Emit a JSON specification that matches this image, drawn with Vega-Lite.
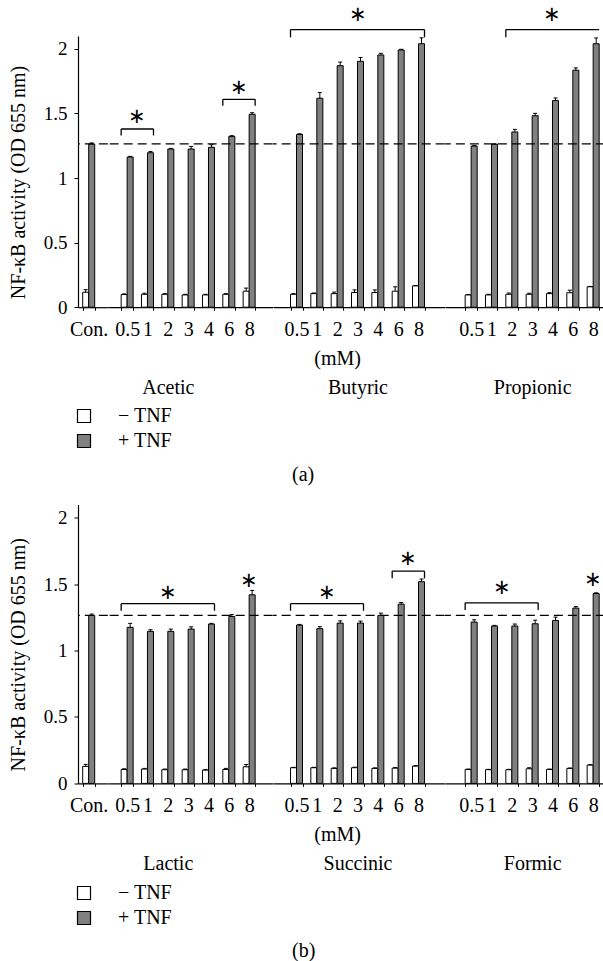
{
"$schema":"https://vega.github.io/schema/vega-lite/v6.json",
"background":"white",
"autosize":"pad",
"padding":{"left":8,"top":4,"right":0,"bottom":0},
"config":{"view":{"stroke":null},"font":"Liberation Serif",
 "axis":{"labelFont":"Liberation Serif","titleFont":"Liberation Serif","grid":false,"domainColor":"#000","tickColor":"#000","labelColor":"#000","titleColor":"#000","titleFontWeight":"normal"},
 "text":{"font":"Liberation Serif","color":"#000"},
 "title":{"font":"Liberation Serif","fontWeight":"normal","fontSize":20,"color":"#000"},
 "legend":{"labelFont":"Liberation Serif","labelColor":"#000"}},
"datasets":{
 "abars":[
  {"group":"Con","conc":"Con.","tnf":"− TNF","value":0.116,"upper":0.136},{"group":"Con","conc":"Con.","tnf":"+ TNF","value":1.264,"upper":1.272},
  {"group":"Acetic","conc":"0.5","tnf":"− TNF","value":0.098,"upper":0.103},{"group":"Acetic","conc":"0.5","tnf":"+ TNF","value":1.163,"upper":1.168},
  {"group":"Acetic","conc":"1","tnf":"− TNF","value":0.1,"upper":0.108},{"group":"Acetic","conc":"1","tnf":"+ TNF","value":1.196,"upper":1.206},
  {"group":"Acetic","conc":"2","tnf":"− TNF","value":0.1,"upper":0.105},{"group":"Acetic","conc":"2","tnf":"+ TNF","value":1.225,"upper":1.23},
  {"group":"Acetic","conc":"3","tnf":"− TNF","value":0.095,"upper":0.1},{"group":"Acetic","conc":"3","tnf":"+ TNF","value":1.225,"upper":1.245},
  {"group":"Acetic","conc":"4","tnf":"− TNF","value":0.095,"upper":0.1},{"group":"Acetic","conc":"4","tnf":"+ TNF","value":1.238,"upper":1.258},
  {"group":"Acetic","conc":"6","tnf":"− TNF","value":0.1,"upper":0.105},{"group":"Acetic","conc":"6","tnf":"+ TNF","value":1.323,"upper":1.328},
  {"group":"Acetic","conc":"8","tnf":"− TNF","value":0.124,"upper":0.148},{"group":"Acetic","conc":"8","tnf":"+ TNF","value":1.494,"upper":1.506},
  {"group":"Butyric","conc":"0.5","tnf":"− TNF","value":0.1,"upper":0.105},{"group":"Butyric","conc":"0.5","tnf":"+ TNF","value":1.338,"upper":1.343},
  {"group":"Butyric","conc":"1","tnf":"− TNF","value":0.105,"upper":0.11},{"group":"Butyric","conc":"1","tnf":"+ TNF","value":1.618,"upper":1.662},
  {"group":"Butyric","conc":"2","tnf":"− TNF","value":0.105,"upper":0.117},{"group":"Butyric","conc":"2","tnf":"+ TNF","value":1.87,"upper":1.898},
  {"group":"Butyric","conc":"3","tnf":"− TNF","value":0.114,"upper":0.134},{"group":"Butyric","conc":"3","tnf":"+ TNF","value":1.904,"upper":1.934},
  {"group":"Butyric","conc":"4","tnf":"− TNF","value":0.114,"upper":0.134},{"group":"Butyric","conc":"4","tnf":"+ TNF","value":1.953,"upper":1.966},
  {"group":"Butyric","conc":"6","tnf":"− TNF","value":0.124,"upper":0.158},{"group":"Butyric","conc":"6","tnf":"+ TNF","value":1.992,"upper":1.997},
  {"group":"Butyric","conc":"8","tnf":"− TNF","value":0.165,"upper":0.168},{"group":"Butyric","conc":"8","tnf":"+ TNF","value":2.04,"upper":2.086},
  {"group":"Propionic","conc":"0.5","tnf":"− TNF","value":0.095,"upper":0.098},{"group":"Propionic","conc":"0.5","tnf":"+ TNF","value":1.248,"upper":1.253},
  {"group":"Propionic","conc":"1","tnf":"− TNF","value":0.095,"upper":0.1},{"group":"Propionic","conc":"1","tnf":"+ TNF","value":1.261,"upper":1.266},
  {"group":"Propionic","conc":"2","tnf":"− TNF","value":0.1,"upper":0.11},{"group":"Propionic","conc":"2","tnf":"+ TNF","value":1.357,"upper":1.377},
  {"group":"Propionic","conc":"3","tnf":"− TNF","value":0.1,"upper":0.108},{"group":"Propionic","conc":"3","tnf":"+ TNF","value":1.483,"upper":1.501},
  {"group":"Propionic","conc":"4","tnf":"− TNF","value":0.105,"upper":0.113},{"group":"Propionic","conc":"4","tnf":"+ TNF","value":1.6,"upper":1.62},
  {"group":"Propionic","conc":"6","tnf":"− TNF","value":0.112,"upper":0.132},{"group":"Propionic","conc":"6","tnf":"+ TNF","value":1.835,"upper":1.853},
  {"group":"Propionic","conc":"8","tnf":"− TNF","value":0.158,"upper":0.161},{"group":"Propionic","conc":"8","tnf":"+ TNF","value":2.04,"upper":2.085}
 ],
 "bbars":[
  {"group":"Con","conc":"Con.","tnf":"− TNF","value":0.128,"upper":0.143},{"group":"Con","conc":"Con.","tnf":"+ TNF","value":1.265,"upper":1.275},
  {"group":"Lactic","conc":"0.5","tnf":"− TNF","value":0.105,"upper":0.11},{"group":"Lactic","conc":"0.5","tnf":"+ TNF","value":1.175,"upper":1.205},
  {"group":"Lactic","conc":"1","tnf":"− TNF","value":0.108,"upper":0.113},{"group":"Lactic","conc":"1","tnf":"+ TNF","value":1.145,"upper":1.157},
  {"group":"Lactic","conc":"2","tnf":"− TNF","value":0.103,"upper":0.108},{"group":"Lactic","conc":"2","tnf":"+ TNF","value":1.145,"upper":1.162},
  {"group":"Lactic","conc":"3","tnf":"− TNF","value":0.103,"upper":0.108},{"group":"Lactic","conc":"3","tnf":"+ TNF","value":1.162,"upper":1.179},
  {"group":"Lactic","conc":"4","tnf":"− TNF","value":0.1,"upper":0.105},{"group":"Lactic","conc":"4","tnf":"+ TNF","value":1.2,"upper":1.205},
  {"group":"Lactic","conc":"6","tnf":"− TNF","value":0.105,"upper":0.113},{"group":"Lactic","conc":"6","tnf":"+ TNF","value":1.257,"upper":1.272},
  {"group":"Lactic","conc":"8","tnf":"− TNF","value":0.125,"upper":0.142},{"group":"Lactic","conc":"8","tnf":"+ TNF","value":1.42,"upper":1.453},
  {"group":"Succinic","conc":"0.5","tnf":"− TNF","value":0.118,"upper":0.121},{"group":"Succinic","conc":"0.5","tnf":"+ TNF","value":1.192,"upper":1.197},
  {"group":"Succinic","conc":"1","tnf":"− TNF","value":0.118,"upper":0.121},{"group":"Succinic","conc":"1","tnf":"+ TNF","value":1.165,"upper":1.18},
  {"group":"Succinic","conc":"2","tnf":"− TNF","value":0.113,"upper":0.117},{"group":"Succinic","conc":"2","tnf":"+ TNF","value":1.207,"upper":1.224},
  {"group":"Succinic","conc":"3","tnf":"− TNF","value":0.118,"upper":0.122},{"group":"Succinic","conc":"3","tnf":"+ TNF","value":1.207,"upper":1.222},
  {"group":"Succinic","conc":"4","tnf":"− TNF","value":0.113,"upper":0.117},{"group":"Succinic","conc":"4","tnf":"+ TNF","value":1.265,"upper":1.282},
  {"group":"Succinic","conc":"6","tnf":"− TNF","value":0.115,"upper":0.119},{"group":"Succinic","conc":"6","tnf":"+ TNF","value":1.35,"upper":1.362},
  {"group":"Succinic","conc":"8","tnf":"− TNF","value":0.13,"upper":0.134},{"group":"Succinic","conc":"8","tnf":"+ TNF","value":1.519,"upper":1.539},
  {"group":"Formic","conc":"0.5","tnf":"− TNF","value":0.105,"upper":0.108},{"group":"Formic","conc":"0.5","tnf":"+ TNF","value":1.215,"upper":1.232},
  {"group":"Formic","conc":"1","tnf":"− TNF","value":0.103,"upper":0.106},{"group":"Formic","conc":"1","tnf":"+ TNF","value":1.185,"upper":1.19},
  {"group":"Formic","conc":"2","tnf":"− TNF","value":0.103,"upper":0.106},{"group":"Formic","conc":"2","tnf":"+ TNF","value":1.185,"upper":1.2},
  {"group":"Formic","conc":"3","tnf":"− TNF","value":0.11,"upper":0.118},{"group":"Formic","conc":"3","tnf":"+ TNF","value":1.202,"upper":1.229},
  {"group":"Formic","conc":"4","tnf":"− TNF","value":0.105,"upper":0.108},{"group":"Formic","conc":"4","tnf":"+ TNF","value":1.227,"upper":1.252},
  {"group":"Formic","conc":"6","tnf":"− TNF","value":0.113,"upper":0.116},{"group":"Formic","conc":"6","tnf":"+ TNF","value":1.32,"upper":1.332},
  {"group":"Formic","conc":"8","tnf":"− TNF","value":0.138,"upper":0.141},{"group":"Formic","conc":"8","tnf":"+ TNF","value":1.43,"upper":1.435}
 ],
 "abr":[
  {"group":"Acetic","from":"0.5","to":"1","level":1.38,"drop":1.33,"closed":true},
  {"group":"Acetic","from":"6","to":"8","level":1.61,"drop":1.56,"closed":true},
  {"group":"Butyric","from":"0.5","to":"8","level":2.15,"drop":2.09,"closed":true},
  {"group":"Propionic","from":"2","to":"8","level":2.15,"drop":2.09,"closed":false}
 ],
 "bbr":[
  {"group":"Lactic","from":"0.5","to":"4","level":1.353,"drop":1.3,"closed":true},
  {"group":"Succinic","from":"0.5","to":"3","level":1.353,"drop":1.3,"closed":true},
  {"group":"Succinic","from":"6","to":"8","level":1.599,"drop":1.544,"closed":true},
  {"group":"Formic","from":"0.5","to":"3","level":1.36,"drop":1.305,"closed":true}
 ],
 "astar":[
  {"group":"Acetic","at":"0.5","pos":"mid","level":1.475},
  {"group":"Acetic","at":"6","pos":"mid","level":1.7},
  {"group":"Butyric","at":"3","pos":"on","level":2.26},
  {"group":"Propionic","at":"4","pos":"on","level":2.26}
 ],
 "bstar":[
  {"group":"Lactic","at":"2","pos":"on","level":1.436},
  {"group":"Lactic","at":"8","pos":"on","level":1.524},
  {"group":"Succinic","at":"1","pos":"mid","level":1.436},
  {"group":"Succinic","at":"6","pos":"mid","level":1.687},
  {"group":"Formic","at":"1","pos":"mid","level":1.473},
  {"group":"Formic","at":"8","pos":"on","level":1.529}
 ]
},
"resolve":{"scale":{"fill":"independent"},"legend":{"fill":"independent"}},
"spacing":19.5,
"vconcat":[
 {"bounds":"flush","spacing":0,
  "title":{"text":"(a)","orient":"bottom","anchor":"start","frame":"group","dx":214,"offset":14,"fontSize":20},
  "hconcat":[
   {"width":29.85,"height":271.2,"layer":[
     {"data":{"name":"abars"},"transform":[{"filter":"datum.group === 'Con'"}],"mark":{"type":"bar","stroke":"#000","strokeWidth":1},
      "encoding":{
       "x":{"field":"conc","type":"nominal","sort":null,"scale":{"domain":["Con."],"paddingInner":0.41,"paddingOuter":0.439,"align":0.263},
            "axis":{"title":null,"labelFontSize":20,"labelAngle":0,"labelBaseline":"alphabetic","labelPadding":25,"tickSize":3,"tickBand":"extent","labelOverlap":false,"domainWidth":1.2}},
       "xOffset":{"field":"tnf","type":"nominal","scale":{"domain":["− TNF","+ TNF"],"paddingInner":0,"paddingOuter":0}},
       "y":{"field":"value","type":"quantitative","scale":{"domain":[0,2.1],"nice":false},
            "axis":{"title":"NF-κB activity (OD 655 nm)","values":[0,0.5,1,1.5,2],"format":"~g","labelFontSize":19,"titleFontSize":20,"tickSize":4,"labelPadding":7,"titleX":-60,"titleY":146,"titleAngle":-90,"titleAlign":"center","titleBaseline":"middle","domainWidth":1.2}},
       "fill":{"field":"tnf","type":"nominal","scale":{"domain":["− TNF","+ TNF"],"range":["#ffffff","#808080"]},
            "legend":{"orient":"none","legendX":-4,"legendY":370,"title":null,"symbolType":"square","symbolSize":169,"symbolStrokeColor":"#000","symbolStrokeWidth":1.2,"labelFontSize":20,"labelOffset":24,"rowPadding":5,"padding":0}}
      }},
     {"data":{"name":"abars"},"transform":[{"filter":"datum.group === 'Con'"}],"mark":{"type":"rule","strokeWidth":1,"color":"#000"},
      "encoding":{"x":{"field":"conc","type":"nominal"},"xOffset":{"field":"tnf","type":"nominal"},"y":{"field":"value","type":"quantitative"},"y2":{"field":"upper"}}},
     {"data":{"name":"abars"},"transform":[{"filter":"datum.group === 'Con'"}],"mark":{"type":"tick","thickness":1,"color":"#000","opacity":1},
      "encoding":{"x":{"field":"conc","type":"nominal"},"xOffset":{"field":"tnf","type":"nominal"},"y":{"field":"upper","type":"quantitative"},"size":{"value":4}}},
     {"data":{"values":[{"ref":1.265}]},"mark":{"type":"rule","strokeDash":[9,5],"strokeWidth":1.2,"color":"#000"},
      "encoding":{"y":{"field":"ref","type":"quantitative"}}}
   ]},
   {"width":164.65,"height":271.2,"layer":[
     {"data":{"name":"abars"},"transform":[{"filter":"datum.group === 'Acetic'"}],"mark":{"type":"bar","stroke":"#000","strokeWidth":1},
      "encoding":{
       "x":{"field":"conc","type":"nominal","sort":null,"scale":{"domain":["0.5","1","2","3","4","6","8"],"paddingInner":0.41,"paddingOuter":0.754,"align":0.429},
            "axis":{"title":null,"labelFontSize":20,"labelAngle":0,"labelBaseline":"alphabetic","labelPadding":25,"tickSize":3,"tickBand":"extent","labelOverlap":false,"domainWidth":1.2,"labelLineHeight":58.6,
                    "labelExpr":"datum.value === '2' ? ['2', 'Acetic'] : datum.value"}},
       "xOffset":{"field":"tnf","type":"nominal","scale":{"domain":["− TNF","+ TNF"],"paddingInner":0,"paddingOuter":0}},
       "y":{"field":"value","type":"quantitative","scale":{"domain":[0,2.1],"nice":false},"axis":null},
       "fill":{"field":"tnf","type":"nominal","scale":{"domain":["− TNF","+ TNF"],"range":["#ffffff","#808080"]},"legend":null}
      }},
     {"data":{"name":"abars"},"transform":[{"filter":"datum.group === 'Acetic'"}],"mark":{"type":"rule","strokeWidth":1,"color":"#000"},
      "encoding":{"x":{"field":"conc","type":"nominal"},"xOffset":{"field":"tnf","type":"nominal"},"y":{"field":"value","type":"quantitative","axis":null},"y2":{"field":"upper"}}},
     {"data":{"name":"abars"},"transform":[{"filter":"datum.group === 'Acetic'"}],"mark":{"type":"tick","thickness":1,"color":"#000","opacity":1},
      "encoding":{"x":{"field":"conc","type":"nominal"},"xOffset":{"field":"tnf","type":"nominal"},"y":{"field":"upper","type":"quantitative","axis":null},"size":{"value":4}}},
     {"data":{"values":[{"ref":1.265}]},"mark":{"type":"rule","strokeDash":[9,5],"strokeWidth":1.2,"color":"#000"},
      "encoding":{"y":{"field":"ref","type":"quantitative","axis":null}}},
     {"data":{"name":"abr"},"transform":[{"filter":"datum.group === 'Acetic'"}],"mark":{"type":"rule","strokeWidth":1.3,"color":"#000"},
      "encoding":{"x":{"field":"from","type":"nominal","bandPosition":0},"x2":{"field":"to","bandPosition":1},"y":{"field":"level","type":"quantitative","axis":null}}},
     {"data":{"name":"abr"},"transform":[{"filter":"datum.group === 'Acetic'"}],"mark":{"type":"rule","strokeWidth":1.3,"color":"#000"},
      "encoding":{"x":{"field":"from","type":"nominal","bandPosition":0},"y":{"field":"level","type":"quantitative","axis":null},"y2":{"field":"drop"}}},
     {"data":{"name":"abr"},"transform":[{"filter":"datum.group === 'Acetic' && datum.closed"}],"mark":{"type":"rule","strokeWidth":1.3,"color":"#000"},
      "encoding":{"x":{"field":"to","type":"nominal","bandPosition":1},"y":{"field":"level","type":"quantitative","axis":null},"y2":{"field":"drop"}}},
     {"data":{"name":"astar"},"transform":[{"filter":"datum.group === 'Acetic' && datum.pos === 'mid'"}],"mark":{"type":"text","text":"∗","fontSize":21,"baseline":"middle"},
      "encoding":{"x":{"field":"at","type":"nominal","bandPosition":1.35},"y":{"field":"level","type":"quantitative","axis":null}}}
   ]},
   {"width":171.65,"height":271.2,"layer":[
     {"data":{"name":"abars"},"transform":[{"filter":"datum.group === 'Butyric'"}],"mark":{"type":"bar","stroke":"#000","strokeWidth":1},
      "encoding":{
       "x":{"field":"conc","type":"nominal","sort":null,"scale":{"domain":["0.5","1","2","3","4","6","8"],"paddingInner":0.41,"paddingOuter":0.926,"align":0.465},
            "axis":{"title":null,"labelFontSize":20,"labelAngle":0,"labelBaseline":"alphabetic","labelPadding":25,"tickSize":3,"tickBand":"extent","labelOverlap":false,"domainWidth":1.2,"labelLineHeight":29.3,
                    "labelExpr":"datum.value === '2' ? ['2', '(mM)'] : datum.value === '3' ? ['3', '\u200b', 'Butyric'] : datum.value"}},
       "xOffset":{"field":"tnf","type":"nominal","scale":{"domain":["− TNF","+ TNF"],"paddingInner":0,"paddingOuter":0}},
       "y":{"field":"value","type":"quantitative","scale":{"domain":[0,2.1],"nice":false},"axis":null},
       "fill":{"field":"tnf","type":"nominal","scale":{"domain":["− TNF","+ TNF"],"range":["#ffffff","#808080"]},"legend":null}
      }},
     {"data":{"name":"abars"},"transform":[{"filter":"datum.group === 'Butyric'"}],"mark":{"type":"rule","strokeWidth":1,"color":"#000"},
      "encoding":{"x":{"field":"conc","type":"nominal"},"xOffset":{"field":"tnf","type":"nominal"},"y":{"field":"value","type":"quantitative","axis":null},"y2":{"field":"upper"}}},
     {"data":{"name":"abars"},"transform":[{"filter":"datum.group === 'Butyric'"}],"mark":{"type":"tick","thickness":1,"color":"#000","opacity":1},
      "encoding":{"x":{"field":"conc","type":"nominal"},"xOffset":{"field":"tnf","type":"nominal"},"y":{"field":"upper","type":"quantitative","axis":null},"size":{"value":4}}},
     {"data":{"values":[{"ref":1.265}]},"mark":{"type":"rule","strokeDash":[9,5],"strokeWidth":1.2,"color":"#000"},
      "encoding":{"y":{"field":"ref","type":"quantitative","axis":null}}},
     {"data":{"name":"abr"},"transform":[{"filter":"datum.group === 'Butyric'"}],"mark":{"type":"rule","strokeWidth":1.3,"color":"#000"},
      "encoding":{"x":{"field":"from","type":"nominal","bandPosition":0},"x2":{"field":"to","bandPosition":1},"y":{"field":"level","type":"quantitative","axis":null}}},
     {"data":{"name":"abr"},"transform":[{"filter":"datum.group === 'Butyric'"}],"mark":{"type":"rule","strokeWidth":1.3,"color":"#000"},
      "encoding":{"x":{"field":"from","type":"nominal","bandPosition":0},"y":{"field":"level","type":"quantitative","axis":null},"y2":{"field":"drop"}}},
     {"data":{"name":"abr"},"transform":[{"filter":"datum.group === 'Butyric' && datum.closed"}],"mark":{"type":"rule","strokeWidth":1.3,"color":"#000"},
      "encoding":{"x":{"field":"to","type":"nominal","bandPosition":1},"y":{"field":"level","type":"quantitative","axis":null},"y2":{"field":"drop"}}},
     {"data":{"name":"astar"},"transform":[{"filter":"datum.group === 'Butyric' && datum.pos === 'on'"}],"mark":{"type":"text","text":"∗","fontSize":21,"baseline":"middle"},
      "encoding":{"x":{"field":"at","type":"nominal"},"y":{"field":"level","type":"quantitative","axis":null}}}
   ]},
   {"width":173.85,"height":271.2,"layer":[
     {"data":{"name":"abars"},"transform":[{"filter":"datum.group === 'Propionic'"}],"mark":{"type":"bar","stroke":"#000","strokeWidth":1},
      "encoding":{
       "x":{"field":"conc","type":"nominal","sort":null,"scale":{"domain":["0.5","1","2","3","4","6","8"],"paddingInner":0.41,"paddingOuter":0.98,"align":0.506},
            "axis":{"title":null,"labelFontSize":20,"labelAngle":0,"labelBaseline":"alphabetic","labelPadding":25,"tickSize":3,"tickBand":"extent","labelOverlap":false,"domainWidth":1.2,"labelLineHeight":58.6,
                    "labelExpr":"datum.value === '3' ? ['3', 'Propionic'] : datum.value"}},
       "xOffset":{"field":"tnf","type":"nominal","scale":{"domain":["− TNF","+ TNF"],"paddingInner":0,"paddingOuter":0}},
       "y":{"field":"value","type":"quantitative","scale":{"domain":[0,2.1],"nice":false},"axis":null},
       "fill":{"field":"tnf","type":"nominal","scale":{"domain":["− TNF","+ TNF"],"range":["#ffffff","#808080"]},"legend":null}
      }},
     {"data":{"name":"abars"},"transform":[{"filter":"datum.group === 'Propionic'"}],"mark":{"type":"rule","strokeWidth":1,"color":"#000"},
      "encoding":{"x":{"field":"conc","type":"nominal"},"xOffset":{"field":"tnf","type":"nominal"},"y":{"field":"value","type":"quantitative","axis":null},"y2":{"field":"upper"}}},
     {"data":{"name":"abars"},"transform":[{"filter":"datum.group === 'Propionic'"}],"mark":{"type":"tick","thickness":1,"color":"#000","opacity":1},
      "encoding":{"x":{"field":"conc","type":"nominal"},"xOffset":{"field":"tnf","type":"nominal"},"y":{"field":"upper","type":"quantitative","axis":null},"size":{"value":4}}},
     {"data":{"values":[{"ref":1.265}]},"mark":{"type":"rule","strokeDash":[9,5],"strokeWidth":1.2,"color":"#000"},
      "encoding":{"y":{"field":"ref","type":"quantitative","axis":null}}},
     {"data":{"name":"abr"},"transform":[{"filter":"datum.group === 'Propionic'"}],"mark":{"type":"rule","strokeWidth":1.3,"color":"#000"},
      "encoding":{"x":{"field":"from","type":"nominal","bandPosition":0},"x2":{"field":"to","bandPosition":1},"y":{"field":"level","type":"quantitative","axis":null}}},
     {"data":{"name":"abr"},"transform":[{"filter":"datum.group === 'Propionic'"}],"mark":{"type":"rule","strokeWidth":1.3,"color":"#000"},
      "encoding":{"x":{"field":"from","type":"nominal","bandPosition":0},"y":{"field":"level","type":"quantitative","axis":null},"y2":{"field":"drop"}}},
     {"data":{"name":"astar"},"transform":[{"filter":"datum.group === 'Propionic' && datum.pos === 'on'"}],"mark":{"type":"text","text":"∗","fontSize":21,"baseline":"middle"},
      "encoding":{"x":{"field":"at","type":"nominal"},"y":{"field":"level","type":"quantitative","axis":null}}}
   ]}
  ]},
 {"bounds":"flush","spacing":0,
  "title":{"text":"(b)","orient":"bottom","anchor":"start","frame":"group","dx":214,"offset":13,"fontSize":20},
  "hconcat":[
   {"width":29.85,"height":278.9,"layer":[
     {"data":{"name":"bbars"},"transform":[{"filter":"datum.group === 'Con'"}],"mark":{"type":"bar","stroke":"#000","strokeWidth":1},
      "encoding":{
       "x":{"field":"conc","type":"nominal","sort":null,"scale":{"domain":["Con."],"paddingInner":0.41,"paddingOuter":0.439,"align":0.263},
            "axis":{"title":null,"labelFontSize":20,"labelAngle":0,"labelBaseline":"alphabetic","labelPadding":25,"tickSize":3,"tickBand":"extent","labelOverlap":false,"domainWidth":1.2}},
       "xOffset":{"field":"tnf","type":"nominal","scale":{"domain":["− TNF","+ TNF"],"paddingInner":0,"paddingOuter":0}},
       "y":{"field":"value","type":"quantitative","scale":{"domain":[0,2.1],"nice":false},
            "axis":{"title":"NF-κB activity (OD 655 nm)","values":[0,0.5,1,1.5,2],"format":"~g","labelFontSize":19,"titleFontSize":20,"tickSize":4,"labelPadding":7,"titleX":-60,"titleY":149.7,"titleAngle":-90,"titleAlign":"center","titleBaseline":"middle","domainWidth":1.2}},
       "fill":{"field":"tnf","type":"nominal","scale":{"domain":["− TNF","+ TNF"],"range":["#ffffff","#808080"]},
            "legend":{"orient":"none","legendX":-4,"legendY":378.5,"title":null,"symbolType":"square","symbolSize":169,"symbolStrokeColor":"#000","symbolStrokeWidth":1.2,"labelFontSize":20,"labelOffset":24,"rowPadding":5,"padding":0}}
      }},
     {"data":{"name":"bbars"},"transform":[{"filter":"datum.group === 'Con'"}],"mark":{"type":"rule","strokeWidth":1,"color":"#000"},
      "encoding":{"x":{"field":"conc","type":"nominal"},"xOffset":{"field":"tnf","type":"nominal"},"y":{"field":"value","type":"quantitative"},"y2":{"field":"upper"}}},
     {"data":{"name":"bbars"},"transform":[{"filter":"datum.group === 'Con'"}],"mark":{"type":"tick","thickness":1,"color":"#000","opacity":1},
      "encoding":{"x":{"field":"conc","type":"nominal"},"xOffset":{"field":"tnf","type":"nominal"},"y":{"field":"upper","type":"quantitative"},"size":{"value":4}}},
     {"data":{"values":[{"ref":1.265}]},"mark":{"type":"rule","strokeDash":[9,5],"strokeWidth":1.2,"color":"#000"},
      "encoding":{"y":{"field":"ref","type":"quantitative"}}}
   ]},
   {"width":164.65,"height":278.9,"layer":[
     {"data":{"name":"bbars"},"transform":[{"filter":"datum.group === 'Lactic'"}],"mark":{"type":"bar","stroke":"#000","strokeWidth":1},
      "encoding":{
       "x":{"field":"conc","type":"nominal","sort":null,"scale":{"domain":["0.5","1","2","3","4","6","8"],"paddingInner":0.41,"paddingOuter":0.754,"align":0.429},
            "axis":{"title":null,"labelFontSize":20,"labelAngle":0,"labelBaseline":"alphabetic","labelPadding":25,"tickSize":3,"tickBand":"extent","labelOverlap":false,"domainWidth":1.2,"labelLineHeight":58.6,
                    "labelExpr":"datum.value === '2' ? ['2', 'Lactic'] : datum.value"}},
       "xOffset":{"field":"tnf","type":"nominal","scale":{"domain":["− TNF","+ TNF"],"paddingInner":0,"paddingOuter":0}},
       "y":{"field":"value","type":"quantitative","scale":{"domain":[0,2.1],"nice":false},"axis":null},
       "fill":{"field":"tnf","type":"nominal","scale":{"domain":["− TNF","+ TNF"],"range":["#ffffff","#808080"]},"legend":null}
      }},
     {"data":{"name":"bbars"},"transform":[{"filter":"datum.group === 'Lactic'"}],"mark":{"type":"rule","strokeWidth":1,"color":"#000"},
      "encoding":{"x":{"field":"conc","type":"nominal"},"xOffset":{"field":"tnf","type":"nominal"},"y":{"field":"value","type":"quantitative","axis":null},"y2":{"field":"upper"}}},
     {"data":{"name":"bbars"},"transform":[{"filter":"datum.group === 'Lactic'"}],"mark":{"type":"tick","thickness":1,"color":"#000","opacity":1},
      "encoding":{"x":{"field":"conc","type":"nominal"},"xOffset":{"field":"tnf","type":"nominal"},"y":{"field":"upper","type":"quantitative","axis":null},"size":{"value":4}}},
     {"data":{"values":[{"ref":1.265}]},"mark":{"type":"rule","strokeDash":[9,5],"strokeWidth":1.2,"color":"#000"},
      "encoding":{"y":{"field":"ref","type":"quantitative","axis":null}}},
     {"data":{"name":"bbr"},"transform":[{"filter":"datum.group === 'Lactic'"}],"mark":{"type":"rule","strokeWidth":1.3,"color":"#000"},
      "encoding":{"x":{"field":"from","type":"nominal","bandPosition":0},"x2":{"field":"to","bandPosition":1},"y":{"field":"level","type":"quantitative","axis":null}}},
     {"data":{"name":"bbr"},"transform":[{"filter":"datum.group === 'Lactic'"}],"mark":{"type":"rule","strokeWidth":1.3,"color":"#000"},
      "encoding":{"x":{"field":"from","type":"nominal","bandPosition":0},"y":{"field":"level","type":"quantitative","axis":null},"y2":{"field":"drop"}}},
     {"data":{"name":"bbr"},"transform":[{"filter":"datum.group === 'Lactic' && datum.closed"}],"mark":{"type":"rule","strokeWidth":1.3,"color":"#000"},
      "encoding":{"x":{"field":"to","type":"nominal","bandPosition":1},"y":{"field":"level","type":"quantitative","axis":null},"y2":{"field":"drop"}}},
     {"data":{"name":"bstar"},"transform":[{"filter":"datum.group === 'Lactic' && datum.pos === 'on'"}],"mark":{"type":"text","text":"∗","fontSize":21,"baseline":"middle"},
      "encoding":{"x":{"field":"at","type":"nominal"},"y":{"field":"level","type":"quantitative","axis":null}}}
   ]},
   {"width":171.65,"height":278.9,"layer":[
     {"data":{"name":"bbars"},"transform":[{"filter":"datum.group === 'Succinic'"}],"mark":{"type":"bar","stroke":"#000","strokeWidth":1},
      "encoding":{
       "x":{"field":"conc","type":"nominal","sort":null,"scale":{"domain":["0.5","1","2","3","4","6","8"],"paddingInner":0.41,"paddingOuter":0.926,"align":0.465},
            "axis":{"title":null,"labelFontSize":20,"labelAngle":0,"labelBaseline":"alphabetic","labelPadding":25,"tickSize":3,"tickBand":"extent","labelOverlap":false,"domainWidth":1.2,"labelLineHeight":29.3,
                    "labelExpr":"datum.value === '2' ? ['2', '(mM)'] : datum.value === '3' ? ['3', '\u200b', 'Succinic'] : datum.value"}},
       "xOffset":{"field":"tnf","type":"nominal","scale":{"domain":["− TNF","+ TNF"],"paddingInner":0,"paddingOuter":0}},
       "y":{"field":"value","type":"quantitative","scale":{"domain":[0,2.1],"nice":false},"axis":null},
       "fill":{"field":"tnf","type":"nominal","scale":{"domain":["− TNF","+ TNF"],"range":["#ffffff","#808080"]},"legend":null}
      }},
     {"data":{"name":"bbars"},"transform":[{"filter":"datum.group === 'Succinic'"}],"mark":{"type":"rule","strokeWidth":1,"color":"#000"},
      "encoding":{"x":{"field":"conc","type":"nominal"},"xOffset":{"field":"tnf","type":"nominal"},"y":{"field":"value","type":"quantitative","axis":null},"y2":{"field":"upper"}}},
     {"data":{"name":"bbars"},"transform":[{"filter":"datum.group === 'Succinic'"}],"mark":{"type":"tick","thickness":1,"color":"#000","opacity":1},
      "encoding":{"x":{"field":"conc","type":"nominal"},"xOffset":{"field":"tnf","type":"nominal"},"y":{"field":"upper","type":"quantitative","axis":null},"size":{"value":4}}},
     {"data":{"values":[{"ref":1.265}]},"mark":{"type":"rule","strokeDash":[9,5],"strokeWidth":1.2,"color":"#000"},
      "encoding":{"y":{"field":"ref","type":"quantitative","axis":null}}},
     {"data":{"name":"bbr"},"transform":[{"filter":"datum.group === 'Succinic'"}],"mark":{"type":"rule","strokeWidth":1.3,"color":"#000"},
      "encoding":{"x":{"field":"from","type":"nominal","bandPosition":0},"x2":{"field":"to","bandPosition":1},"y":{"field":"level","type":"quantitative","axis":null}}},
     {"data":{"name":"bbr"},"transform":[{"filter":"datum.group === 'Succinic'"}],"mark":{"type":"rule","strokeWidth":1.3,"color":"#000"},
      "encoding":{"x":{"field":"from","type":"nominal","bandPosition":0},"y":{"field":"level","type":"quantitative","axis":null},"y2":{"field":"drop"}}},
     {"data":{"name":"bbr"},"transform":[{"filter":"datum.group === 'Succinic' && datum.closed"}],"mark":{"type":"rule","strokeWidth":1.3,"color":"#000"},
      "encoding":{"x":{"field":"to","type":"nominal","bandPosition":1},"y":{"field":"level","type":"quantitative","axis":null},"y2":{"field":"drop"}}},
     {"data":{"name":"bstar"},"transform":[{"filter":"datum.group === 'Succinic' && datum.pos === 'mid'"}],"mark":{"type":"text","text":"∗","fontSize":21,"baseline":"middle"},
      "encoding":{"x":{"field":"at","type":"nominal","bandPosition":1.35},"y":{"field":"level","type":"quantitative","axis":null}}}
   ]},
   {"width":173.85,"height":278.9,"layer":[
     {"data":{"name":"bbars"},"transform":[{"filter":"datum.group === 'Formic'"}],"mark":{"type":"bar","stroke":"#000","strokeWidth":1},
      "encoding":{
       "x":{"field":"conc","type":"nominal","sort":null,"scale":{"domain":["0.5","1","2","3","4","6","8"],"paddingInner":0.41,"paddingOuter":0.98,"align":0.506},
            "axis":{"title":null,"labelFontSize":20,"labelAngle":0,"labelBaseline":"alphabetic","labelPadding":25,"tickSize":3,"tickBand":"extent","labelOverlap":false,"domainWidth":1.2,"labelLineHeight":58.6,
                    "labelExpr":"datum.value === '3' ? ['3', 'Formic'] : datum.value"}},
       "xOffset":{"field":"tnf","type":"nominal","scale":{"domain":["− TNF","+ TNF"],"paddingInner":0,"paddingOuter":0}},
       "y":{"field":"value","type":"quantitative","scale":{"domain":[0,2.1],"nice":false},"axis":null},
       "fill":{"field":"tnf","type":"nominal","scale":{"domain":["− TNF","+ TNF"],"range":["#ffffff","#808080"]},"legend":null}
      }},
     {"data":{"name":"bbars"},"transform":[{"filter":"datum.group === 'Formic'"}],"mark":{"type":"rule","strokeWidth":1,"color":"#000"},
      "encoding":{"x":{"field":"conc","type":"nominal"},"xOffset":{"field":"tnf","type":"nominal"},"y":{"field":"value","type":"quantitative","axis":null},"y2":{"field":"upper"}}},
     {"data":{"name":"bbars"},"transform":[{"filter":"datum.group === 'Formic'"}],"mark":{"type":"tick","thickness":1,"color":"#000","opacity":1},
      "encoding":{"x":{"field":"conc","type":"nominal"},"xOffset":{"field":"tnf","type":"nominal"},"y":{"field":"upper","type":"quantitative","axis":null},"size":{"value":4}}},
     {"data":{"values":[{"ref":1.265}]},"mark":{"type":"rule","strokeDash":[9,5],"strokeWidth":1.2,"color":"#000"},
      "encoding":{"y":{"field":"ref","type":"quantitative","axis":null}}},
     {"data":{"name":"bbr"},"transform":[{"filter":"datum.group === 'Formic'"}],"mark":{"type":"rule","strokeWidth":1.3,"color":"#000"},
      "encoding":{"x":{"field":"from","type":"nominal","bandPosition":0},"x2":{"field":"to","bandPosition":1},"y":{"field":"level","type":"quantitative","axis":null}}},
     {"data":{"name":"bbr"},"transform":[{"filter":"datum.group === 'Formic'"}],"mark":{"type":"rule","strokeWidth":1.3,"color":"#000"},
      "encoding":{"x":{"field":"from","type":"nominal","bandPosition":0},"y":{"field":"level","type":"quantitative","axis":null},"y2":{"field":"drop"}}},
     {"data":{"name":"bbr"},"transform":[{"filter":"datum.group === 'Formic' && datum.closed"}],"mark":{"type":"rule","strokeWidth":1.3,"color":"#000"},
      "encoding":{"x":{"field":"to","type":"nominal","bandPosition":1},"y":{"field":"level","type":"quantitative","axis":null},"y2":{"field":"drop"}}},
     {"data":{"name":"bstar"},"transform":[{"filter":"datum.group === 'Formic' && datum.pos === 'mid'"}],"mark":{"type":"text","text":"∗","fontSize":21,"baseline":"middle"},
      "encoding":{"x":{"field":"at","type":"nominal","bandPosition":1.35},"y":{"field":"level","type":"quantitative","axis":null}}},
     {"data":{"name":"bstar"},"transform":[{"filter":"datum.group === 'Formic' && datum.pos === 'on'"}],"mark":{"type":"text","text":"∗","fontSize":21,"baseline":"middle"},
      "encoding":{"x":{"field":"at","type":"nominal"},"y":{"field":"level","type":"quantitative","axis":null}}}
   ]}
  ]}
]
}
